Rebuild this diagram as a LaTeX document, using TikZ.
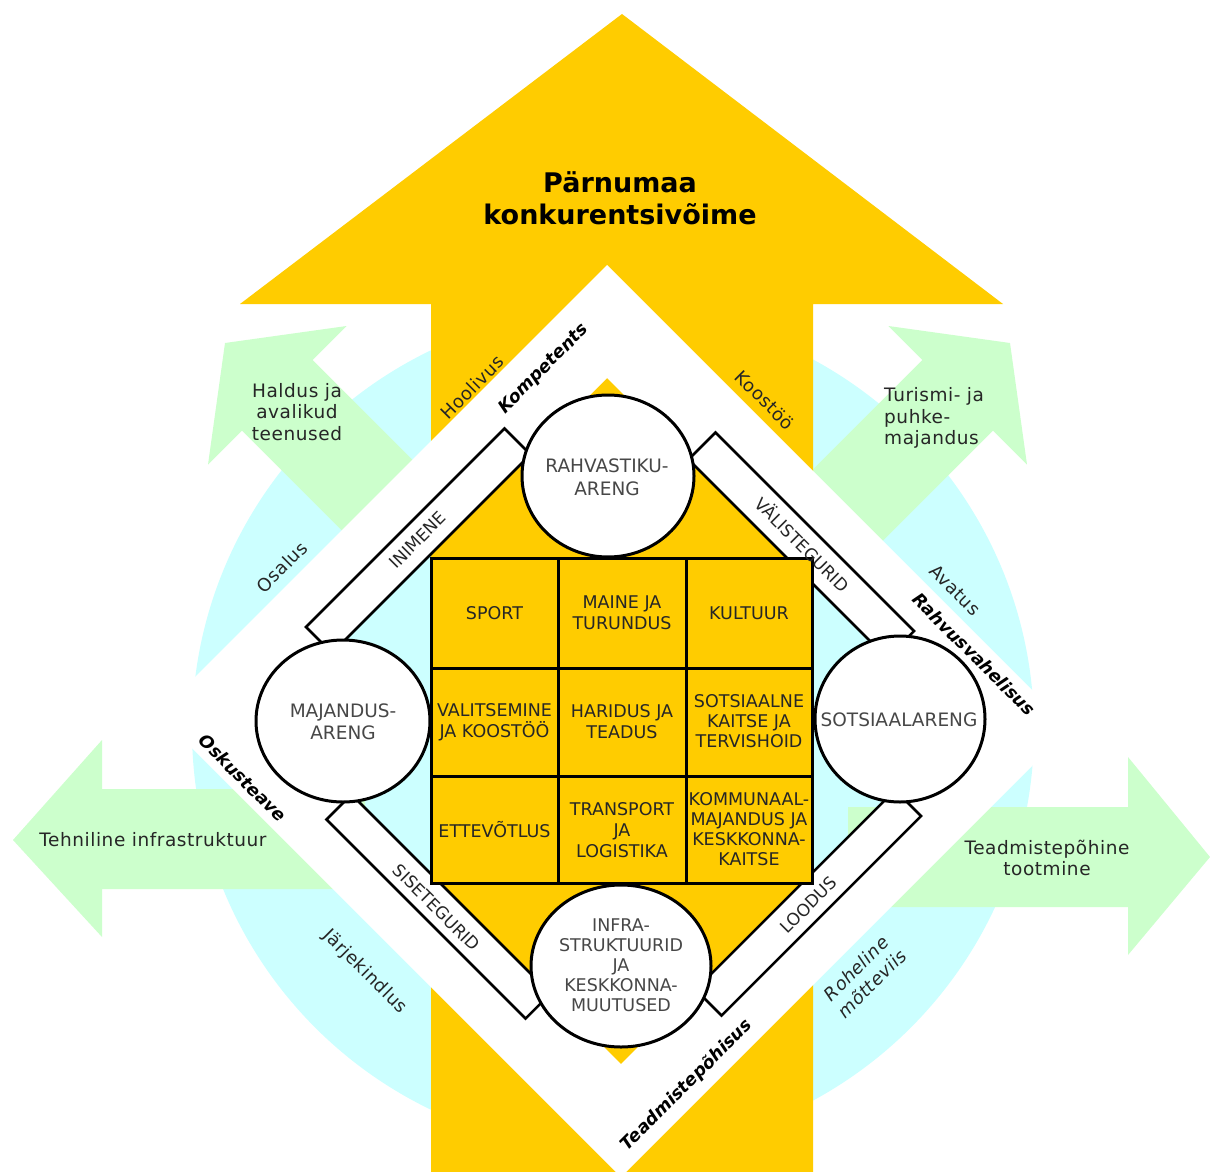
\documentclass[tikz,border=0pt]{standalone}
\usepackage{fontspec}
\setmainfont{DejaVu Sans}
\newfontfamily\lblfont[LetterSpace=3]{DejaVu Sans}
\definecolor{ayellow}{HTML}{FFCC00}
\definecolor{acyan}{HTML}{CCFFFF}
\definecolor{agreen}{HTML}{CCFFCC}
\tikzset{
  barbox/.style={fill=white, draw=black, line width=2.5},
  bubble/.style={fill=white, draw=black, line width=3},
  celltext/.style={align=center, inner sep=0, text=black!85, font=\fontsize{17.5}{21}\selectfont},
  circtext/.style={align=center, inner sep=0, text=black!72, font=\fontsize{18.5}{21}\selectfont},
  bartext/.style={inner sep=0, text=black!85, font=\fontsize{17}{20}\selectfont},
  frametext/.style={inner sep=0, text=black, font=\fontsize{17.5}{20}\selectfont\bfseries\itshape},
  valtext/.style={inner sep=0, text=black!85, font=\lblfont\fontsize{18}{20}\selectfont},
  arrowtext/.style={inner sep=0, text=black!85, font=\lblfont\fontsize{18.5}{21.5}\selectfont},
}
\begin{document}
\begin{tikzpicture}[x=1pt,y=-1pt]
\clip (0,0) rectangle (1210,1172);
\fill[white] (0,0) rectangle (1210,1172);
% background disc
\fill[acyan] (613,730) circle[radius=421];
% green arrows
\fill[agreen] (225,343) -- (346.6,326.0) -- (312.7,360.0) -- (444.2,491.5) -- (373.5,562.2) -- (242.0,430.7) -- (208.0,464.6) -- cycle;
\fill[agreen] (1010,343) -- (888.4,326.0) -- (922.3,360.0) -- (790.8,491.5) -- (861.5,562.2) -- (993.0,430.7) -- (1027.0,464.6) -- cycle;
\fill[agreen] (13,840) -- (102,740) -- (102,789) -- (365,789) -- (365,889) -- (102,889) -- (102,937) -- cycle;
\fill[agreen] (1210,857) -- (1128,757) -- (1128,807) -- (848,807) -- (848,907) -- (1128,907) -- (1128,955) -- cycle;
% big yellow arrow
\fill[ayellow] (431,1180) -- (431,304) -- (240,304) -- (622,14) -- (1003,304) -- (813,304) -- (813,1180) -- cycle;
% white frame band
\fill[white, even odd rule] (607,265) -- (1070,728) -- (621,1177) -- (158,714) -- cycle
  (607,378) -- (957,728) -- (621,1064) -- (271,714) -- cycle;
% bars
\draw[barbox] (504.5,428.5) -- (530.5,454.5) -- (332,653) -- (306,627) -- cycle;
\draw[barbox] (715.5,432.5) -- (688.5,459.5) -- (887,658) -- (914,631) -- cycle;
\draw[barbox] (351.5,794.5) -- (326.5,819.5) -- (525.5,1018.5) -- (550.5,993.5) -- cycle;
\draw[barbox] (895,790) -- (921,816) -- (721.5,1015.5) -- (695.5,989.5) -- cycle;
% circles
\draw[bubble] (608,476) ellipse [x radius=86, y radius=81];
\draw[bubble] (343,721) ellipse [x radius=87, y radius=81];
\draw[bubble] (900,719) ellipse [x radius=85, y radius=83];
\draw[bubble] (621,966) ellipse [x radius=90, y radius=81];
% grid
\draw[fill=ayellow, line width=3] (431,558) rectangle (812,883);
\draw[line width=3] (558,558) -- (558,883) (686,558) -- (686,883)
  (431,668) -- (812,668) (431,776) -- (812,776);
% title
\node[align=center, inner sep=0, font=\fontsize{27}{32}\selectfont\bfseries] (title) at (620,198) {Pärnumaa\\konkurentsivõime};
% grid texts
\node[celltext] (c11) at (494.5,613) {SPORT};
\node[celltext] (c12) at (622,613) {MAINE JA\\TURUNDUS};
\node[celltext] (c13) at (749,613) {KULTUUR};
\node[celltext] (c21) at (494.5,722) {VALITSEMINE\\JA KOOSTÖÖ};
\node[celltext] (c22) at (622,722) {HARIDUS JA\\TEADUS};
\node[celltext, font=\fontsize{17.5}{20}\selectfont] (c23) at (749,721) {SOTSIAALNE\\KAITSE JA\\TERVISHOID};
\node[celltext] (c31) at (494.5,829.5) {ETTEVÕTLUS};
\node[celltext] (c32) at (622,830) {TRANSPORT\\JA\\LOGISTIKA};
\node[celltext, font=\fontsize{17.5}{20}\selectfont] (c33) at (749,829.5) {KOMMUNAAL-\\MAJANDUS JA\\KESKKONNA-\\KAITSE};
% circle texts
\node[circtext, font=\fontsize{18.5}{23}\selectfont] (rahv) at (607,477) {RAHVASTIKU-\\ARENG};
\node[circtext, font=\fontsize{18.5}{22}\selectfont] (maj) at (343,722) {MAJANDUS-\\ARENG};
\node[circtext] (sots) at (899,720) {SOTSIAALARENG};
\node[circtext, font=\fontsize{17.5}{20}\selectfont] (infra) at (621,965) {INFRA-\\STRUKTUURID\\JA\\KESKKONNA-\\MUUTUSED};
% bar texts
\node[bartext, rotate=45] (inim) at (417.5,540) {INIMENE};
\node[bartext, rotate=-45] (valis) at (803,544) {VÄLISTEGURID};
\node[bartext, rotate=-45] (sise) at (436.5,907.5) {SISETEGURID};
\node[bartext, rotate=45] (lood) at (808.5,905) {LOODUS};
% frame texts
\node[frametext, rotate=45] (komp) at (544,369) {Kompetents};
\node[frametext, rotate=-45] (rahvus) at (974,654) {Rahvusvahelisus};
\node[frametext, rotate=-45] (osk) at (243,778) {Oskusteave};
\node[frametext, rotate=45] (teadm) at (687,1085) {Teadmistepõhisus};
% value texts
\node[valtext, rotate=45] (hool) at (472,387) {Hoolivus};
\node[valtext, rotate=45] (osal) at (282,567) {Osalus};
\node[valtext, rotate=-45] (koos) at (765,400) {Koostöö};
\node[valtext, rotate=-45] (avat) at (955,590) {Avatus};
\node[valtext, rotate=-45] (jarj) at (365,972) {Järjekindlus};
\node[valtext, rotate=45, align=center, font=\lblfont\fontsize{18}{22}\selectfont\itshape] (rohel) at (864,976) {Roheline\\mõtteviis};
% arrow texts
\node[arrowtext, align=center] (haldus) at (297,412) {Haldus ja\\avalikud\\teenused};
\node[arrowtext, align=left, anchor=west] (turism) at (884,418) {Turismi- ja\\puhke-\\majandus};
\node[arrowtext] (tehn) at (153,840) {Tehniline infrastruktuur};
\node[arrowtext, align=center] (teadmt) at (1047,858) {Teadmistepõhine\\tootmine};
\end{tikzpicture}
\end{document}
